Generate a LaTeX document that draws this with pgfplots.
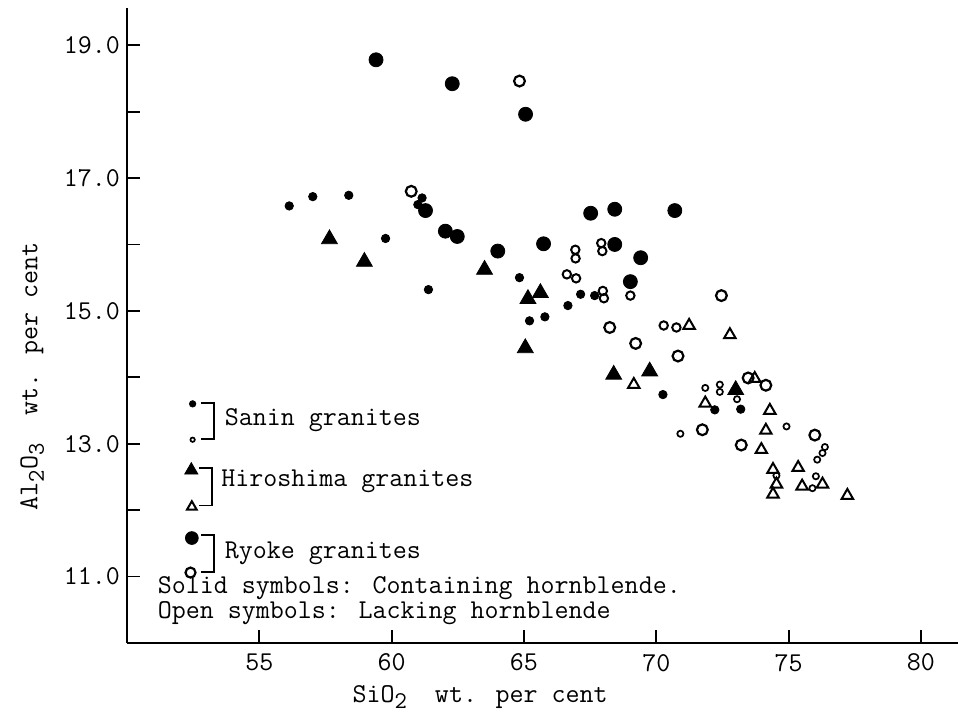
\documentclass[border=0pt]{standalone}
\usepackage{pgfplots}
\pgfplotsset{compat=1.18}
% Al2O3 vs SiO2, granites; typewriter look
\newcommand{\tw}{\fontsize{13.6}{13.6}\selectfont\ttfamily}
\newcommand{\sub}[1]{\raisebox{-0.55ex}{\fontsize{12}{12}\selectfont #1}}
\tikzset{
  rsolid/.style={only marks, mark=*, mark size=3.5pt, mark options={fill=black, draw=black}},
  ropen/.style={only marks, mark=o, mark size=2.7pt, mark options={draw=black, line width=1.1pt}},
  rmed/.style={only marks, mark=o, mark size=2.1pt, mark options={draw=black, line width=1pt}},
  ssolid/.style={only marks, mark=*, mark size=2.1pt, mark options={fill=black, draw=black}},
  sopen/.style={only marks, mark=o, mark size=1.55pt, mark options={draw=black, line width=0.85pt}},
  hsolid/.style={only marks, mark=triangle*, mark size=4.6pt, mark options={fill=black, draw=black}},
  hopen/.style={only marks, mark=triangle, mark size=3.3pt, mark options={draw=black, line width=1pt}},
}
\begin{document}
\begin{tikzpicture}
\begin{axis}[name=ax, scale only axis, width=415.5pt, height=317.5pt,
  xmin=50, xmax=81.4, ymin=10, ymax=19.56, clip=false,
  axis lines=left, axis line style={-, line width=1.3pt},
  tick align=inside, tick style={black, line width=0.9pt},
  major tick length=6.5pt, minor tick length=6.5pt,
  xtick={55,60,...,80}, xticklabels={55,60,65,70,75,80},
  ytick={11,13,...,19}, yticklabels={11.0,13.0,15.0,17.0,19.0},
  minor ytick={12,14,16,18},
  ticklabel style={font=\tw},
  xticklabel style={yshift=-2pt},
  xlabel={SiO\sub{2}\ \ wt. per cent}, ylabel={Al\sub{2}O\sub{3}\ \ wt. per cent},
  label style={font=\tw},
  xlabel style={at={(rel axis cs:0.425,-0.085)}, anchor=center},
  ylabel style={at={(rel axis cs:-0.114,0.42)}, anchor=center},
]
% Ryoke granites, solid (hornblende)
\addplot[rsolid] coordinates {(59.41,18.78)(62.29,18.42)(65.06,17.96)(61.28,16.51)(62.03,16.20)
  (62.48,16.12)(64.01,15.90)(65.74,16.01)(67.52,16.47)(68.43,16.53)(70.70,16.51)(68.43,16.00)
  (69.41,15.80)(69.02,15.44)};
% Ryoke granites, open
\addplot[ropen] coordinates {(64.83,18.46)(60.74,16.80)(68.24,14.75)(69.22,14.51)(70.82,14.32)
  (72.46,15.23)(73.47,13.99)(74.14,13.88)(71.74,13.21)(73.21,12.98)(75.99,13.13)};
\addplot[rmed] coordinates {(66.94,15.92)(66.95,15.79)(67.92,16.02)(67.96,15.90)(66.62,15.55)
  (66.97,15.49)(67.98,15.30)(68.02,15.19)(69.02,15.23)(70.28,14.78)(70.76,14.75)};
% Sanin granites
\addplot[ssolid] coordinates {(56.13,16.58)(57.02,16.72)(58.38,16.74)(61.15,16.70)(60.99,16.60)
  (59.77,16.09)(61.39,15.32)(64.83,15.50)(67.14,15.25)(67.67,15.23)(66.66,15.08)(65.21,14.85)
  (65.79,14.91)(70.25,13.74)(72.21,13.51)(73.19,13.52)};
\addplot[sopen] coordinates {(71.85,13.84)(72.40,13.89)(72.40,13.78)(73.05,13.67)(74.92,13.26)
  (70.91,13.15)(76.37,12.95)(76.28,12.86)(76.08,12.76)(74.54,12.52)(76.03,12.51)(75.90,12.33)};
% Hiroshima granites
\addplot[hsolid] coordinates {(57.65,16.08)(58.97,15.74)(63.51,15.62)(65.15,15.18)(65.62,15.27)
  (65.05,14.44)(68.39,14.04)(69.75,14.09)(73.00,13.81)};
\addplot[hopen] coordinates {(69.15,13.89)(71.24,14.78)(72.78,14.64)(73.72,13.98)(71.85,13.61)
  (74.29,13.50)(74.14,13.20)(73.97,12.91)(74.41,12.61)(74.54,12.39)(74.41,12.24)(75.36,12.64)
  (75.51,12.36)(76.28,12.39)(77.22,12.22)};
% key
\addplot[ssolid, mark size=1.6pt] coordinates {(52.48,13.60)};
\addplot[sopen, mark size=1.1pt] coordinates {(52.48,13.06)};
\addplot[hsolid, mark size=3.8pt] coordinates {(52.43,12.60)};
\addplot[hopen, mark size=2.8pt] coordinates {(52.45,12.05)};
\addplot[rsolid, mark size=3.2pt] coordinates {(52.45,11.58)};
\addplot[ropen, mark size=2.5pt] coordinates {(52.40,11.06)};
\draw[line width=0.9pt] (52.78,13.61) -- (53.30,13.61) -- (53.30,13.07) -- (52.78,13.07);
\draw[line width=0.9pt] (52.73,12.63) -- (53.21,12.63) -- (53.21,12.07) -- (52.73,12.07);
\draw[line width=0.9pt] (52.80,11.63) -- (53.30,11.63) -- (53.30,11.07) -- (52.80,11.07);
\node[anchor=west, inner sep=0pt, font=\tw] at (53.68,13.35) {Sanin granites};
\node[anchor=west, inner sep=0pt, font=\tw] at (53.55,12.43) {Hiroshima granites};
\node[anchor=west, inner sep=0pt, font=\tw] at (53.68,11.35) {Ryoke granites};
\node[anchor=west, inner sep=0pt, align=left, font=\fontsize{13.6}{9.6}\selectfont\ttfamily]
  at (51.15,10.64) {Solid symbols: Containing hornblende.\\Open symbols: Lacking hornblende};
\end{axis}
\pgfresetboundingbox
\path ([shift={(-63.5pt,-38pt)}]ax.south west) rectangle ([shift={(0pt,4pt)}]ax.north east);
\end{tikzpicture}
\end{document}
